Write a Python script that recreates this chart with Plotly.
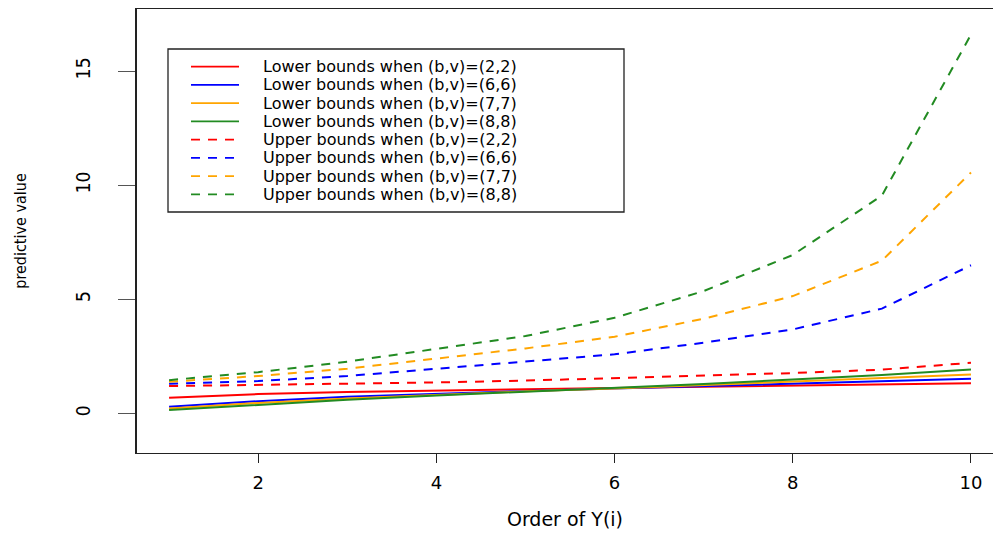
import plotly.graph_objects as go

# ---- data ----
order = [1, 2, 3, 4, 5, 6, 7, 8, 9, 10]

lower_22 = [0.70, 0.86, 0.95, 1.02, 1.08, 1.13, 1.18, 1.23, 1.28, 1.33]
lower_66 = [0.31, 0.55, 0.74, 0.88, 1.00, 1.10, 1.20, 1.30, 1.42, 1.53]
lower_77 = [0.23, 0.47, 0.67, 0.84, 0.98, 1.10, 1.25, 1.40, 1.55, 1.72]
lower_88 = [0.16, 0.40, 0.61, 0.80, 0.96, 1.12, 1.30, 1.50, 1.70, 1.94]

upper_22 = [1.21, 1.26, 1.31, 1.37, 1.45, 1.55, 1.65, 1.78, 1.93, 2.23]
upper_66 = [1.31, 1.43, 1.65, 1.97, 2.26, 2.60, 3.11, 3.69, 4.60, 6.50]
upper_77 = [1.40, 1.65, 1.97, 2.42, 2.86, 3.37, 4.16, 5.15, 6.70, 10.56]
upper_88 = [1.47, 1.82, 2.28, 2.85, 3.40, 4.20, 5.37, 6.95, 9.55, 16.60]

series_names = [
    "Lower bounds when (b,v)=(2,2)",
    "Lower bounds when (b,v)=(6,6)",
    "Lower bounds when (b,v)=(7,7)",
    "Lower bounds when (b,v)=(8,8)",
    "Upper bounds when (b,v)=(2,2)",
    "Upper bounds when (b,v)=(6,6)",
    "Upper bounds when (b,v)=(7,7)",
    "Upper bounds when (b,v)=(8,8)",
]
series_values = [lower_22, lower_66, lower_77, lower_88,
                 upper_22, upper_66, upper_77, upper_88]
series_colors = ["#FF0000", "#0000FF", "#FFA500", "#228B22"] * 2
series_dash = ["solid"] * 4 + ["9px,8px"] * 4

x_ticks = [2, 4, 6, 8, 10]
y_ticks = [0, 5, 10, 15]

# ---- layout geometry (pixels) ----
W, H = 993, 533
L, R, T, B = 137, 0, 9, 80
PW, PH = W - L - R, H - T - B

def px_x(p):
    return (p - L) / PW

def px_y(p):
    return (H - B - p) / PH

fig = go.Figure()
for name, vals, col, dash in zip(series_names, series_values, series_colors, series_dash):
    fig.add_trace(go.Scatter(
        x=order, y=vals, mode="lines", name=name,
        line=dict(color=col, width=2, dash=dash),
        showlegend=False,
    ))

# ---- manual legend box (R-style) ----
leg_left, leg_right, leg_top, leg_bottom = 168, 624, 49, 212
fig.add_shape(type="rect", xref="paper", yref="paper",
              x0=px_x(leg_left), x1=px_x(leg_right),
              y0=px_y(leg_bottom), y1=px_y(leg_top),
              line=dict(color="#222", width=1.3), fillcolor="white", layer="below")
row0, row_step = 66.7, 18.25
for i, (name, col, dash) in enumerate(zip(series_names, series_colors, series_dash)):
    yy = row0 + i * row_step
    fig.add_shape(type="line", xref="paper", yref="paper",
                  x0=px_x(191), x1=px_x(239), y0=px_y(yy), y1=px_y(yy),
                  line=dict(color=col, width=1.8, dash=dash))
    fig.add_annotation(xref="paper", yref="paper", x=px_x(261), y=px_y(yy),
                       text=name, showarrow=False, xanchor="left", yanchor="middle",
                       font=dict(family="DejaVu Sans", size=16, color="#000"))

fig.update_layout(
    width=W, height=H,
    margin=dict(l=L, r=R, t=T, b=B, pad=0),
    plot_bgcolor="white", paper_bgcolor="white",
    showlegend=False,
    xaxis=dict(
        range=[0.64, 0.64 + PW / 89.1],
        tickmode="array", tickvals=x_ticks, ticktext=[str(v) for v in x_ticks],
        ticks="outside", ticklen=9, tickwidth=1.3, tickcolor="#222",
        showgrid=False, zeroline=False,
        showline=True, linecolor="#222", linewidth=1.3, mirror=True,
        tickfont=dict(family="DejaVu Sans", size=18, color="#000"),
        ticklabelstandoff=4,
        title=dict(text="Order of Y(i)", standoff=20,
                   font=dict(family="DejaVu Sans", size=19, color="#000")),
    ),
    yaxis=dict(
        range=[-1.72, 17.72],
        tickmode="array", tickvals=y_ticks, ticktext=[str(v) for v in y_ticks],
        ticks="outside", ticklen=17, tickwidth=1.3, tickcolor="#555",
        tickangle=-90,
        showgrid=False, zeroline=False,
        showline=True, linecolor="#222", linewidth=2, mirror=False,
        tickfont=dict(family="Liberation Sans Narrow, DejaVu Sans Condensed, Arial", size=19, color="#000"),
        ticklabelstandoff=20,
        title=dict(text="predictive value", standoff=42,
                   font=dict(family="Liberation Sans Narrow, DejaVu Sans Condensed, Arial", size=16, color="#000")),
    ),
)

fig.write_html("out.html")
